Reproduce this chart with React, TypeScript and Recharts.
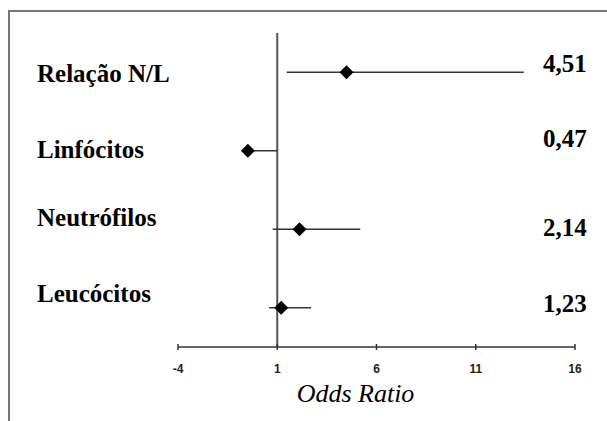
import { ErrorBar, Label, ReferenceLine, Scatter, ScatterChart, XAxis, YAxis } from 'recharts';

const rows = ['Relação N/L', 'Linfócitos', 'Neutrófilos', 'Leucócitos'];
const rowPos = [4, 3, 2, 1];
const oddsPlotted = [4.49, -0.48, 2.12, 1.2];
const ciLow = [1.48, -0.6, 0.77, 0.58];
const ciHigh = [13.42, 1.0, 5.18, 2.7];
const orLabels = ['4,51', '0,47', '2,14', '1,23'];
const xTicks = [-4, 1, 6, 11, 16];

// small vertical nudges so the texts sit where the original put them
const nameDy = [9.4, 7.6, -3.2, -5.4];
const valueDy = [-0.3, -4, 6.8, 4];

const data = rows.map((name, i) => ({
    name,
    row: rowPos[i],
    or: oddsPlotted[i],
    err: [oddsPlotted[i] - ciLow[i], ciHigh[i] - oddsPlotted[i]],
    label: orLabels[i],
}));

const serif = { fontFamily: 'Liberation Serif' };
const sans = { fontFamily: 'Liberation Sans' };

function RowTick(props: any) {
    const { y, payload } = props;
    const i = rowPos.indexOf(payload.value);
    if (i < 0) return null;
    return (
        <g>
            <text x={37} y={y + nameDy[i]} style={serif} fontWeight="bold" fontSize={25} fill="#000">
                {rows[i]}
            </text>
            <text x={543} y={y + valueDy[i]} style={serif} fontWeight="bold" fontSize={25} fill="#000">
                {orLabels[i]}
            </text>
        </g>
    );
}

function OddsTick(props: any) {
    const { x, y, payload } = props;
    return (
        <g>
            <line x1={x} x2={x} y1={y - 3} y2={y + 3} stroke="#333" strokeWidth={1.5} />
            <text x={x} y={y + 26} textAnchor="middle" style={sans} fontWeight="bold" fontSize={12} fill="#222">
                {payload.value}
            </text>
        </g>
    );
}

function Diamond(props: any) {
    const { cx, cy } = props;
    const r = 7;
    return <polygon points={`${cx},${cy - r} ${cx + r},${cy} ${cx},${cy + r} ${cx - r},${cy}`} fill="#000" />;
}

export default function App() {
    return (
        <div style={{ position: 'absolute', left: 0, top: 0, width: 607, height: 421, overflow: 'hidden', background: '#fff' }}>
            <div
                style={{
                    position: 'absolute',
                    left: 8,
                    top: 10,
                    width: 640,
                    height: 440,
                    border: '2px solid #777',
                }}
            />
            <div style={{ position: 'absolute', left: 0, top: 0 }}>
                <ScatterChart width={607} height={421} margin={{ top: 33, right: 32, bottom: 14, left: 0 }}>
                    <XAxis
                        type="number"
                        dataKey="or"
                        domain={[-4, 16]}
                        ticks={xTicks}
                        allowDataOverflow
                        height={60}
                        tickSize={0}
                        tickMargin={0}
                        tickLine={false}
                        axisLine={{ stroke: '#333', strokeWidth: 1.5 }}
                        tick={<OddsTick />}
                        interval={0}
                    >
                        <Label
                            content={(p: any) => {
                                const vb = p.viewBox || { x: 178, y: 347, width: 397 };
                                return (
                                    <text
                                        x={vb.x + vb.width / 2 - 21}
                                        y={vb.y + 54.7}
                                        textAnchor="middle"
                                        style={serif}
                                        fontStyle="italic"
                                        fontSize={26}
                                        fill="#000"
                                    >
                                        Odds Ratio
                                    </text>
                                );
                            }}
                        />
                    </XAxis>
                    <YAxis
                        type="number"
                        dataKey="row"
                        domain={[0.5, 4.5]}
                        ticks={rowPos}
                        width={178}
                        axisLine={false}
                        tickLine={false}
                        tick={<RowTick />}
                        interval={0}
                    />
                    <ReferenceLine x={1} stroke="#555" strokeWidth={2} />
                    <Scatter data={data} shape={<Diamond />} isAnimationActive={false}>
                        <ErrorBar dataKey="err" direction="x" width={0} stroke="#333" strokeWidth={1.5} />
                    </Scatter>
                </ScatterChart>
            </div>
        </div>
    );
}
